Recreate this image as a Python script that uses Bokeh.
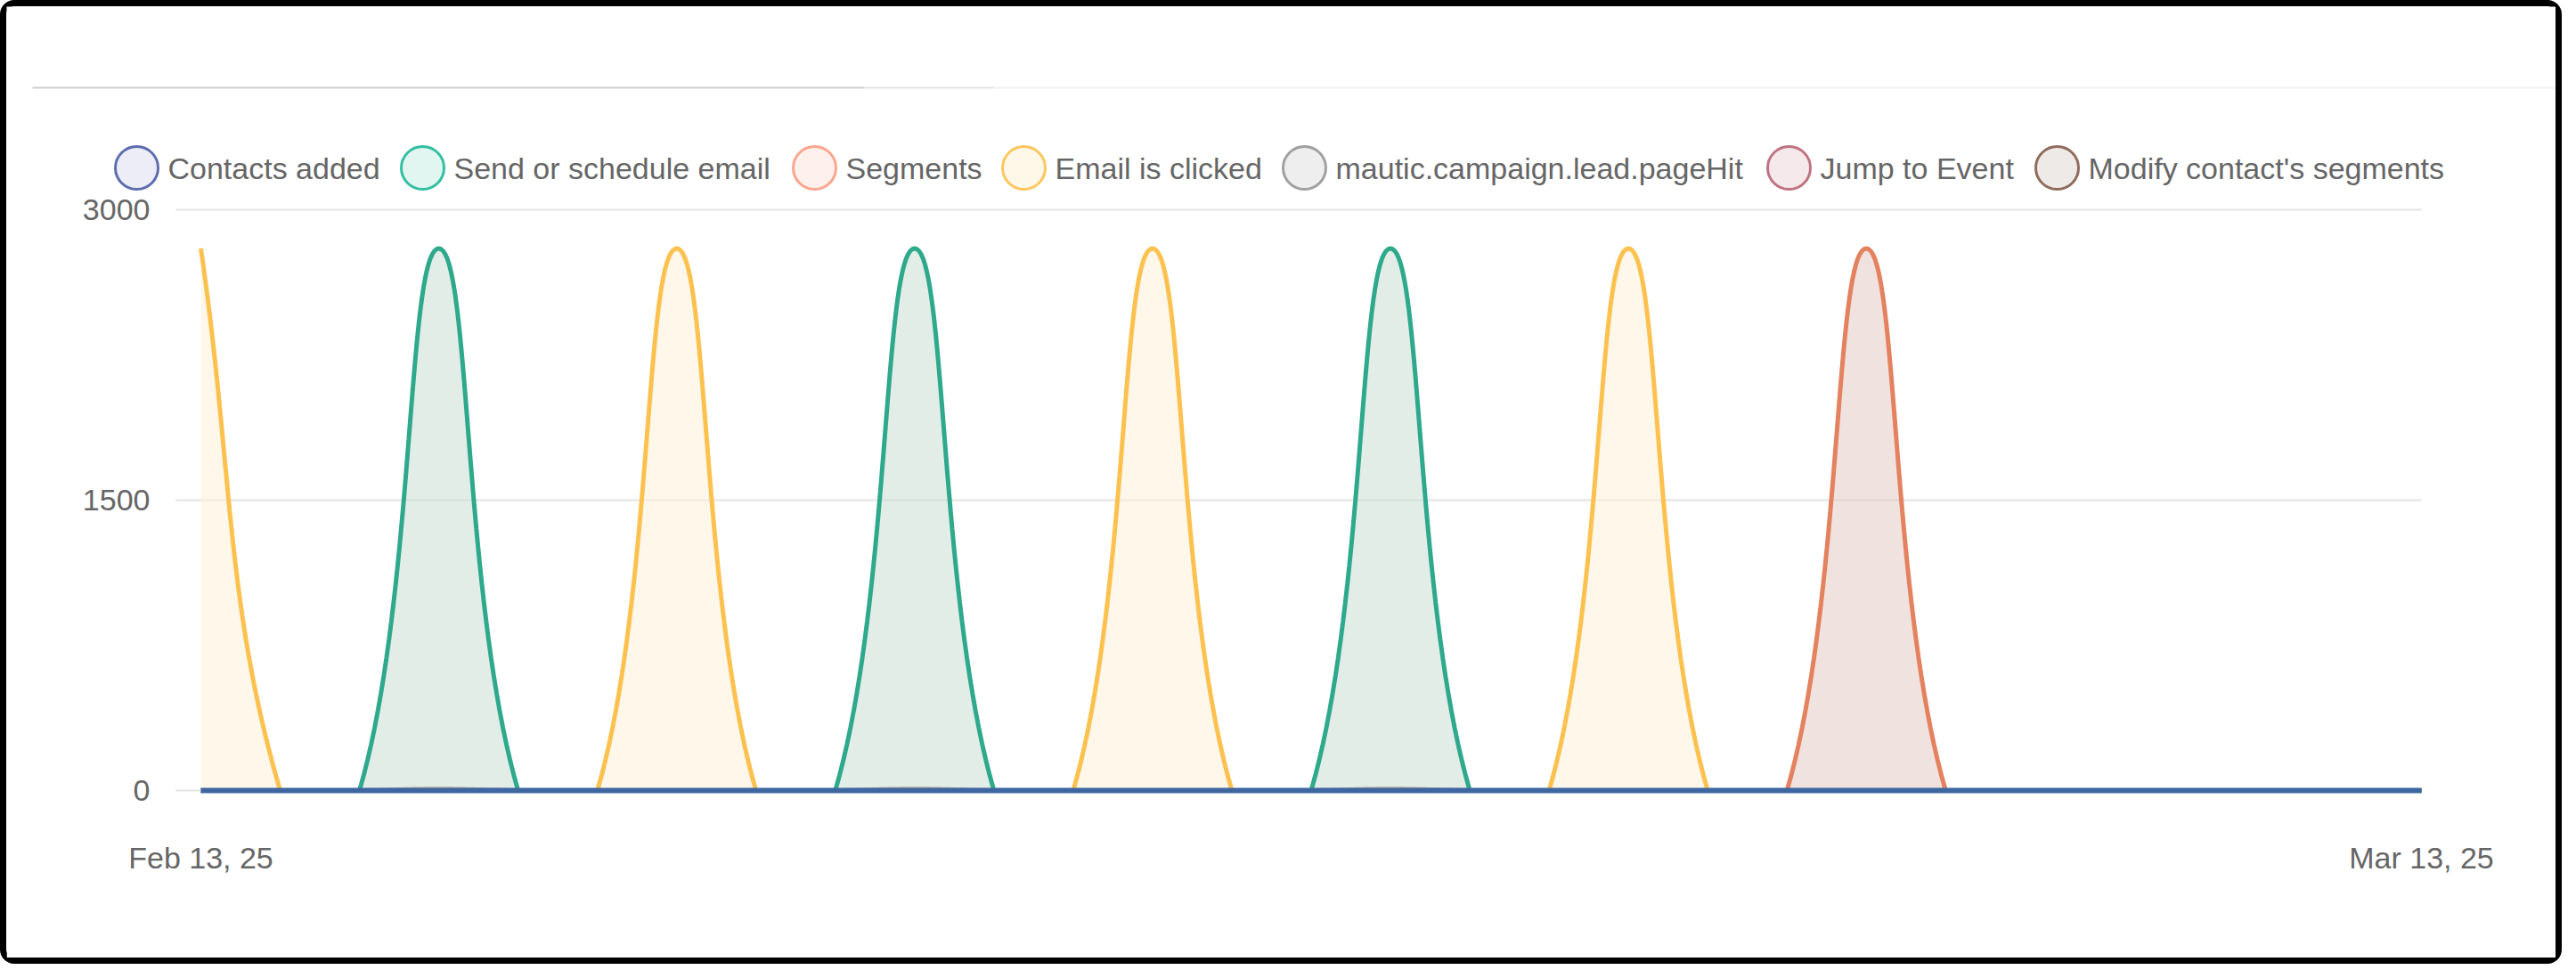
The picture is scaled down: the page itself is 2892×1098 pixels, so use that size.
import numpy as np
import pandas as pd
from bokeh.plotting import figure
from bokeh.models import (FixedTicker, DatetimeTickFormatter, BoxAnnotation, Range1d,
                          LinearAxis)
from bokeh.core.properties import value
from bokeh.embed import file_html
from bokeh.resources import INLINE

# ---------------- data ----------------
dates = pd.date_range("2025-02-13", "2025-03-13", freq="D")  # 29 daily points

series_names = ["Contacts added", "Send or schedule email", "Segments", "Email is clicked",
                "mautic.campaign.lead.pageHit", "Jump to Event", "Modify contact's segments"]

contacts_added = [0] * 29
send_email = [0, 0, 0, 2800, 0, 0, 0, 0, 0, 2800, 0, 0, 0, 0, 0, 2800, 0, 0, 0, 0, 0, 0, 0, 0, 0, 0, 0, 0, 0]
segments = [0, 0, 0, 0, 0, 0, 0, 0, 0, 0, 0, 0, 0, 0, 0, 0, 0, 0, 0, 0, 0, 2800, 0, 0, 0, 0, 0, 0, 0]
email_clicked = [2800, 0, 0, 0, 0, 0, 2800, 0, 0, 0, 0, 0, 2800, 0, 0, 0, 0, 0, 2800, 0, 0, 0, 0, 0, 0, 0, 0, 0, 0]
page_hit = [0] * 29
jump_to_event = [0] * 29
modify_segments = [0, 0, 0, 8, 0, 0, 0, 0, 0, 8, 0, 0, 0, 0, 0, 8, 0, 0, 0, 0, 0, 0, 0, 0, 0, 0, 0, 0, 0]

series_values = [contacts_added, send_email, segments, email_clicked,
                 page_hit, jump_to_event, modify_segments]

y_ticks = [0, 1500, 3000]

# ---------------- styles / layout (pixels) ----------------
line_colors = ["#3E66A1", "#2FA98B", "#E4815F", "#FCC14F", "#9E9E9E", "#B0707F", "#A07C62"]
fill_colors = ["#3E66A1", "#C7DBCF", "#E1C5BD", "#FFEFD5", "#9E9E9E", "#B0707F", "#A07C62"]
line_widths = [6, 5, 5, 5, 5, 5, 5]
legend_line = ["#5E6DB0", "#33BFA3", "#FCA58F", "#FDC65E", "#A0A0A0", "#C07382", "#8F6C5C"]
legend_fill = ["#ECEDF6", "#E1F5F1", "#FEF0EC", "#FFF7E8", "#EEEEEE", "#F5E9EC", "#EEEAE8"]
legend_cx = [146, 467, 907, 1142, 1457, 2001, 2302]   # swatch centres, px from canvas left
LEGEND_CY = 181                                       # px from canvas top
LABEL_GAP = 35
GRID = "#E4E4E4"
FONT = "Liberation Sans"

CW, CH = 2876, 1082            # canvas size (host box incl. 7px border)
BOTTOM = 190                   # space below the frame for the date labels
FH = CH - BOTTOM               # frame height (frame spans full width, from top)
X_DAY0, X_DAYN = 218, 2711     # px of first / last day
Y_ZERO, Y_TOP = 880, 228       # px of value 0 / 3000
PX_UNIT = (Y_ZERO - Y_TOP) / 3000.0
NDAY = len(dates) - 1
PX_DAY = (X_DAYN - X_DAY0) / NDAY
TENSION = 0.4
DAY = pd.Timedelta(days=1)

x_start = dates[0] - DAY * (X_DAY0 / PX_DAY)
x_end = dates[-1] + DAY * ((CW - X_DAYN) / PX_DAY)
y_start = -(FH - Y_ZERO) / PX_UNIT
y_end = 3000 + Y_TOP / PX_UNIT


def smooth_path(vals):
    """Cubic path through the daily values, built like the original library's tensioned line."""
    X = np.arange(len(vals)) * PX_DAY
    Y = np.asarray(vals, dtype=float) * PX_UNIT
    n = len(vals)
    pc, nc = [], []
    ymax = 3000 * PX_UNIT
    for i in range(n):
        a, b = max(i - 1, 0), min(i + 1, n - 1)
        d01 = np.hypot(X[i] - X[a], Y[i] - Y[a])
        d12 = np.hypot(X[b] - X[i], Y[b] - Y[i])
        tot = d01 + d12
        s01 = d01 / tot if tot else 0.0
        s12 = d12 / tot if tot else 0.0
        fa, fb = TENSION * s01, TENSION * s12
        dx, dy = X[b] - X[a], Y[b] - Y[a]
        pc.append((min(max(X[i] - fa * dx, 0), X[-1]), min(max(Y[i] - fa * dy, 0), ymax)))
        nc.append((min(max(X[i] + fb * dx, 0), X[-1]), min(max(Y[i] + fb * dy, 0), ymax)))
    t = np.linspace(0, 1, 40)
    xs, ys = [], []
    for i in range(n - 1):
        p0 = (X[i], Y[i]); p1 = nc[i]; p2 = pc[i + 1]; p3 = (X[i + 1], Y[i + 1])
        bx = (1 - t) ** 3 * p0[0] + 3 * (1 - t) ** 2 * t * p1[0] + 3 * (1 - t) * t ** 2 * p2[0] + t ** 3 * p3[0]
        by = (1 - t) ** 3 * p0[1] + 3 * (1 - t) ** 2 * t * p1[1] + 3 * (1 - t) * t ** 2 * p2[1] + t ** 3 * p3[1]
        last = i == n - 2
        xs.extend(bx if last else bx[:-1])
        ys.extend(by if last else by[:-1])
    days = np.array(xs) / PX_DAY
    xdt = dates[0] + pd.to_timedelta(days, unit="D")
    return xdt, np.array(ys) / PX_UNIT


p = figure(width=CW - 14, height=CH - 14, x_axis_type="datetime",
           x_range=Range1d(x_start, x_end), y_range=Range1d(y_start, y_end),
           y_axis_location=None,
           output_backend="svg", toolbar_location=None,
           min_border_left=0, min_border_right=0, min_border_top=0, min_border_bottom=BOTTOM,
           background_fill_color="white", border_fill_color="white")
p.outline_line_color = None
p.styles = {"border": "7px solid black", "border-radius": "16px", "box-sizing": "content-box"}
p.grid.visible = False

# pixel ranges for the legend strip
p.extra_x_ranges = {"px": Range1d(0, CW)}
p.extra_y_ranges = {"px": Range1d(FH, 0)}

# horizontal grid lines across the data span
p.segment(x0=[dates[0]] * len(y_ticks), x1=[dates[-1]] * len(y_ticks), y0=y_ticks, y1=y_ticks,
          line_color=GRID, line_width=2)

# y axis pinned at the first day, ticks sticking out to the left like the original
yax = LinearAxis(fixed_location=dates[0].value // 10**6, ticker=FixedTicker(ticks=y_ticks))
yax.axis_line_color = None
yax.major_tick_in = 0
yax.major_tick_out = 28
yax.major_tick_line_color = GRID
yax.major_tick_line_width = 2
yax.minor_tick_line_color = None
yax.major_label_standoff = 29
p.add_layout(yax, "left")

p.xaxis.ticker = FixedTicker(ticks=[dates[0].value // 10**6, dates[-1].value // 10**6])
fmt = "%b %d, %y"
p.xaxis.formatter = DatetimeTickFormatter(days=fmt, months=fmt, years=fmt, hours=fmt,
                                          hourmin=fmt, minutes=fmt, minsec=fmt, seconds=fmt,
                                          milliseconds=fmt, microseconds=fmt)
p.xaxis.axis_line_color = None
p.xaxis.major_tick_line_color = None
p.xaxis.minor_tick_line_color = None
p.xaxis.major_tick_out = 0
p.xaxis.major_label_standoff = 44

for ax in (p.xaxis[0], yax):
    ax.major_label_text_font = FONT
    ax.major_label_text_font_size = "34px"
    ax.major_label_text_color = "#666666"

# series drawn last-to-first, each fill then its line (first series ends on top)
for i in reversed(range(len(series_names))):
    xs, ys = smooth_path(series_values[i])
    if max(series_values[i]) > 0:
        p.varea(x=xs, y1=0, y2=ys, fill_color=fill_colors[i], fill_alpha=0.5)
    p.line(x=xs, y=ys, line_color=line_colors[i], line_width=line_widths[i])

# tab underline at the top of the card
for l, r, c in [(29, 963, "#CFCFCF"), (963, 1108, "#E2E2E2"), (1108, CW, "#F2F2F2")]:
    p.add_layout(BoxAnnotation(left=l, right=r, top=90, bottom=92,
                               x_range_name="px", y_range_name="px",
                               fill_color=c, fill_alpha=1, line_color=None))

# legend
p.scatter(x=legend_cx, y=[LEGEND_CY] * len(legend_cx), marker="circle", size=48,
          fill_color=legend_fill, line_color=legend_line, line_width=3,
          x_range_name="px", y_range_name="px")
p.text(x=[c + LABEL_GAP for c in legend_cx], y=[LEGEND_CY] * len(legend_cx), text=series_names,
       text_font=value(FONT), text_font_size="34px", text_color="#666666",
       text_baseline="middle", text_align="left", x_range_name="px", y_range_name="px")

open("out.html", "w").write(file_html(p, INLINE))
